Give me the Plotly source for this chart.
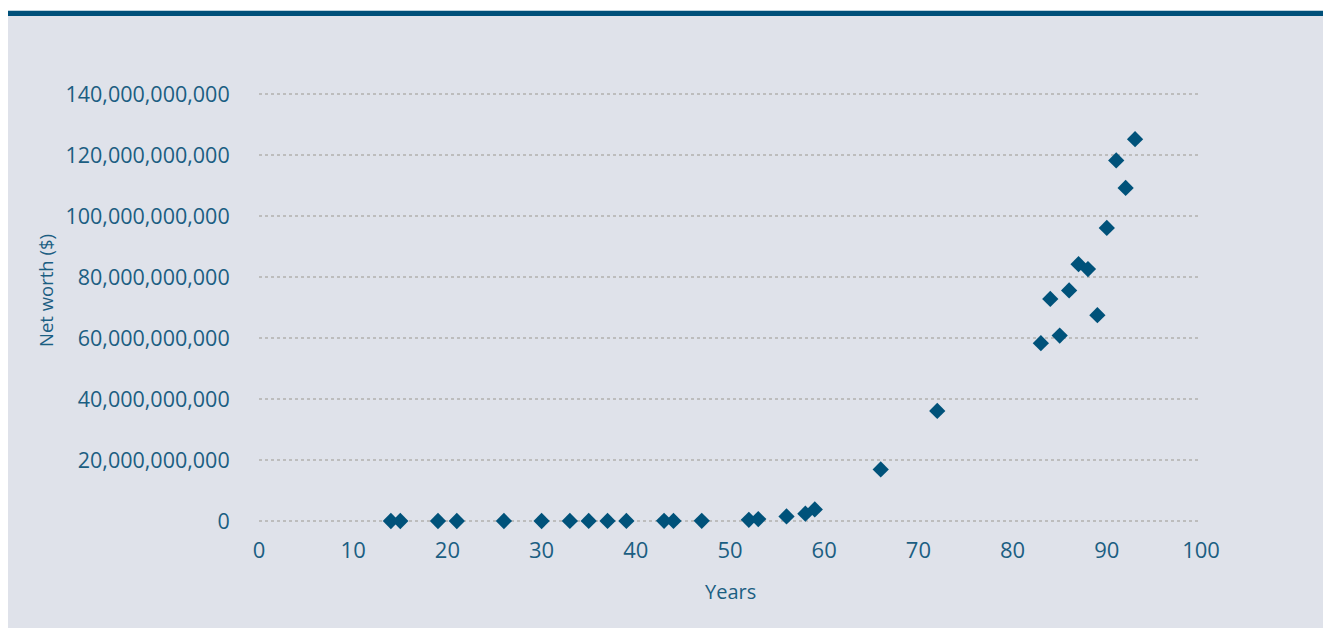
import plotly.graph_objects as go

years = [14, 15, 19, 21, 26, 30, 33, 35, 37, 39, 43, 44, 47, 52, 53, 56, 58, 59,
         66, 72, 83, 84, 85, 86, 87, 88, 89, 90, 91, 92, 93]
net_worth = [5e3, 6e3, 9.8e3, 2e4, 1.4e5, 1e6, 2.4e6, 6.8e6, 1e7, 2.5e7, 6.7e7, 3.4e7, 6.7e7,
             3.76e8, 6.2e8, 1.5e9, 2.4e9, 3.8e9,
             16.9e9, 36.1e9, 58.3e9, 72.8e9, 60.8e9, 75.6e9, 84.2e9, 82.6e9, 67.5e9,
             96.1e9, 118.2e9, 109.2e9, 125.2e9]
y_ticks = [0, 20e9, 40e9, 60e9, 80e9, 100e9, 120e9, 140e9]
y_tick_labels = ["0", "20,000,000,000", "40,000,000,000", "60,000,000,000",
                 "80,000,000,000", "100,000,000,000", "120,000,000,000", "140,000,000,000"]
x_ticks = list(range(0, 101, 10))

TXT = "#1b5e82"
MARK = "#00527a"
BG = "#dfe2ea"
FONT = "Open Sans"

# figure is placed by the page at an 8px offset (left/top)
W, H = 1315, 620
EXT = 2  # extra pixels so the edge gridlines are not clipped
L, R, T, B = 251, 1193, 86 - EXT, 513 + EXT
pw, ph = R - L, B - T
per_px = 140e9 / (ph - 2 * EXT)

def px_x(p):
    return (p - L) / pw

def px_y(p):
    return (B - p) / ph

fig = go.Figure()
fig.add_trace(go.Scatter(
    x=years, y=net_worth, mode="markers",
    marker=dict(symbol="diamond", size=12.5, color=MARK),
    cliponaxis=False, hoverinfo="x+y",
))

fig.update_layout(
    width=W, height=H,
    margin=dict(l=L, r=W - R, t=T, b=H - B, pad=0),
    paper_bgcolor="white",
    plot_bgcolor=BG,
    showlegend=False,
    font=dict(family=FONT, color=TXT, size=20),
    shapes=[
        dict(type="rect", xref="paper", yref="paper", layer="below",
             x0=px_x(0), x1=px_x(W + 2), y0=px_y(H + 2), y1=px_y(8),
             fillcolor=BG, line=dict(width=0)),
        dict(type="rect", xref="paper", yref="paper", layer="below",
             x0=px_x(0), x1=px_x(W + 2), y0=px_y(8), y1=px_y(2.7),
             fillcolor="#00507a", line=dict(width=0)),
    ],
    annotations=[
        dict(text="Net worth ($)", xref="paper", yref="paper",
             x=px_x(37), y=px_y(283), textangle=-90, showarrow=False,
             font=dict(family=FONT, size=18.5, color=TXT),
             xanchor="center", yanchor="middle"),
        dict(text="Years", xref="paper", yref="paper",
             x=px_x(722), y=px_y(583), showarrow=False,
             font=dict(family=FONT, size=20, color=TXT),
             xanchor="center", yanchor="middle"),
    ],
)

fig.update_xaxes(
    range=[0, 100], tickmode="array", tickvals=x_ticks,
    showgrid=False, zeroline=False, showline=False,
    ticks="outside", ticklen=6 + EXT, tickcolor="rgba(0,0,0,0)",
    tickfont=dict(family=FONT, size=22, color=TXT),
)
fig.update_yaxes(
    range=[-EXT * per_px, 140e9 + EXT * per_px], tickmode="array",
    tickvals=y_ticks, ticktext=y_tick_labels,
    showgrid=True, gridcolor="#bdbdbd", griddash="dot", gridwidth=1.5,
    zeroline=False, showline=False,
    ticks="outside", ticklen=24, tickcolor="rgba(0,0,0,0)",
    tickfont=dict(family=FONT, size=21.5, color=TXT),
)

fig.write_html(
    "out.html",
    post_script="document.body.style.margin='8px 0 0 8px';document.body.style.overflow='hidden';",
)
